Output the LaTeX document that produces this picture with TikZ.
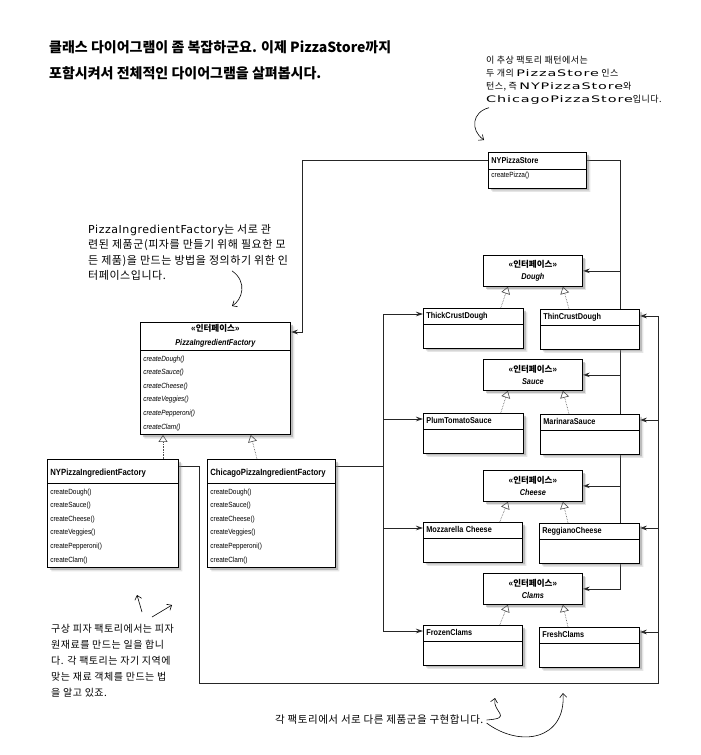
\documentclass[tikz,border=0pt]{standalone}
\usepackage{fontspec}
\setmainfont{Liberation Sans}
\newfontfamily\umlfont[FakeStretch=0.86]{Liberation Sans}
\newfontfamily\krfont{Noto Sans CJK KR}
\newfontfamily\notefont[LetterSpace=5]{Noto Sans CJK KR}
\newfontfamily\latfont[LetterSpace=5]{DejaVu Sans}
\newfontfamily\latwide[FakeStretch=1.6,Scale=1.0,LetterSpace=10]{DejaVu Sans}
\usetikzlibrary{arrows.meta,shapes.multipart,shadows}
\pgfdeclarelayer{back}
\pgfsetlayers{back,main}

\newcommand{\hl}[1]{{\latfont #1}}
\newcommand{\hlw}[1]{{\latwide #1}}
\newcommand{\iface}{{\krfont\bfseries «인터페이스»}}
\newcommand{\chead}[1]{\centering\fontsize{8.5}{13}\selectfont\bfseries #1\strut}
\newcommand{\fhead}[1]{\centering\fontsize{9}{21}\selectfont\bfseries #1\strut}

\tikzset{
  boxshadow/.style={drop shadow={shadow xshift=4pt, shadow yshift=-4pt, opacity=0.2},
    drop shadow={shadow xshift=2.5pt, shadow yshift=-2.5pt, opacity=0.4}},
  umlbox/.style={rectangle split, rectangle split parts=2, draw=black, fill=white,
    line width=0.75pt, boxshadow,
    font=\umlfont\fontsize{7.5}{13.6}\selectfont, inner xsep=3pt, inner ysep=1pt,
    align=left, anchor=north west},
  ifacebox/.style={draw=black, fill=white, line width=0.75pt, boxshadow,
    font=\umlfont\bfseries\itshape\fontsize{8.5}{12}\selectfont, align=center,
    minimum width=99pt, minimum height=31pt, inner sep=0pt, anchor=north west},
  assoc/.style={draw=black!85, line width=0.75pt, -{Stealth[length=7pt,width=4.5pt]}},
  impl/.style={draw=black!70, densely dotted, line width=0.6pt, -{Triangle[open,length=7pt,width=9pt]}},
  note/.style={align=left, anchor=north west, inner sep=0pt},
  handarrow/.style={line width=0.6pt, -{Straight Barb[length=4pt,width=7pt]}}
}

\begin{document}
\begin{tikzpicture}[x=1pt,y=-1pt]
  \begin{pgfonlayer}{back}
    \fill[white] (0,0) rectangle (701,755);
  \end{pgfonlayer}
  \useasboundingbox (0,0) rectangle (701,755);

  \node[anchor=north west, inner sep=0pt, align=left, font=\krfont\bfseries\fontsize{14}{26}\selectfont] (title) at (49,40)
    {클래스 다이어그램이 좀 복잡하군요. 이제 PizzaStore까지\\포함시켜서 전체적인 다이어그램을 살펴봅시다.};

  % store and factories
  \node[umlbox, text width=92pt] (nyps) at (488,152)
    {\centering\fontsize{8.5}{14}\selectfont\bfseries NYPizzaStore\strut
     \nodepart{two}\rule[-9pt]{0pt}{16pt}createPizza()};
  \node[umlbox, text width=144pt] (pif) at (140,322)
    {\fontsize{8.5}{11.5}\selectfont\bfseries \makebox[\linewidth]{\krfont«인터페이스»}\strut\\\makebox[\linewidth]{\itshape PizzaIngredientFactory}\strut
     \nodepart{two}\itshape createDough()\strut\\createSauce()\\createCheese()\\createVeggies()\\createPepperoni()\\createClam()\strut};
  \node[umlbox, text width=125pt] (nypif) at (47,459)
    {\fhead{NYPizzaIngredientFactory}
     \nodepart{two}createDough()\strut\\createSauce()\\createCheese()\\createVeggies()\\createPepperoni()\\createClam()\strut};
  \node[umlbox, text width=122pt] (chpif) at (207,459)
    {\fhead{ChicagoPizzaIngredientFactory}
     \nodepart{two}createDough()\strut\\createSauce()\\createCheese()\\createVeggies()\\createPepperoni()\\createClam()\strut};

  % products
  \node[ifacebox] (dough) at (483,255) {\iface\\Dough};
  \node[umlbox, text width=94pt] (thick) at (423,308) {\chead{ThickCrustDough}\nodepart{two}\rule{0pt}{21pt}};
  \node[umlbox, text width=93pt] (thin) at (540,309) {\chead{ThinCrustDough}\nodepart{two}\rule{0pt}{21pt}};
  \node[ifacebox] (sauce) at (483,359) {\iface\\Sauce};
  \node[umlbox, text width=94pt] (plum) at (423,413) {\chead{PlumTomatoSauce}\nodepart{two}\rule{0pt}{21pt}};
  \node[umlbox, text width=93pt] (marinara) at (540,414) {\chead{MarinaraSauce}\nodepart{two}\rule{0pt}{21pt}};
  \node[ifacebox] (cheese) at (483,470) {\iface\\Cheese};
  \node[umlbox, text width=93pt] (mozz) at (423,522) {\chead{Mozzarella Cheese}\nodepart{two}\rule{0pt}{21pt}};
  \node[umlbox, text width=94pt] (reggiano) at (539,523) {\chead{ReggianoCheese}\nodepart{two}\rule{0pt}{21pt}};
  \node[ifacebox] (clams) at (483,573) {\iface\\Clams};
  \node[umlbox, text width=93pt] (frozen) at (423,625) {\chead{FrozenClams}\nodepart{two}\rule{0pt}{21pt}};
  \node[umlbox, text width=94pt] (fresh) at (539,627) {\chead{FreshClams}\nodepart{two}\rule{0pt}{21pt}};

  \coordinate (lbus) at ([xshift=-40pt,yshift=-6pt]thick.north west);
  \coordinate (rbus) at ([xshift=19pt,yshift=-7pt]thin.north east);
  \coordinate (loop) at ([xshift=21pt,yshift=-224pt]nypif.north east);

  \begin{pgfonlayer}{back}
    \draw[assoc] ([yshift=-8pt]nyps.north west) -| ([xshift=12pt,yshift=-10pt]pif.north east) -- ([yshift=-10pt]pif.north east);
    \draw[assoc] ([yshift=-8pt]nyps.north east) -| ([xshift=38pt]clams.east) -- (clams.east);
    \draw[assoc] ([xshift=38pt]dough.east) -- (dough.east);
    \draw[assoc] ([xshift=38pt]sauce.east) -- (sauce.east);
    \draw[assoc] ([xshift=38pt]cheese.east) -- (cheese.east);

    \draw[assoc] ([yshift=-7pt]chpif.north east) -| (lbus) -- ([yshift=-6pt]thick.north west);
    \draw[assoc] (lbus) |- ([yshift=-6pt]frozen.north west);
    \draw[assoc] ([xshift=-40pt,yshift=-6pt]plum.north west) -- ([yshift=-6pt]plum.north west);
    \draw[assoc] ([xshift=-40pt,yshift=-6pt]mozz.north west) -- ([yshift=-6pt]mozz.north west);

    \draw[assoc] ([yshift=-7pt]nypif.north east) -| (loop) -| (rbus) -- ([yshift=-7pt]thin.north east);
    \draw[assoc] ([xshift=19pt,yshift=-6pt]marinara.north east) -- ([yshift=-6pt]marinara.north east);
    \draw[assoc] ([xshift=19pt,yshift=-5pt]reggiano.north east) -- ([yshift=-5pt]reggiano.north east);
    \draw[assoc] ([xshift=19pt,yshift=-5pt]fresh.north east) -- ([yshift=-5pt]fresh.north east);
  \end{pgfonlayer}

  % implements
  \draw[impl] ([xshift=116pt]nypif.north west) -- ([xshift=23pt]pif.south west);
  \draw[impl] ([xshift=50pt]chpif.north west) -- ([xshift=-40pt]pif.south east);
  \draw[impl] ([xshift=-23pt]thick.north east) -- ([xshift=-25pt]dough.south);
  \draw[impl] ([xshift=29pt]thin.north west) -- ([xshift=30pt]dough.south);
  \draw[impl] ([xshift=-23pt]plum.north east) -- ([xshift=-25pt]sauce.south);
  \draw[impl] ([xshift=29pt]marinara.north west) -- ([xshift=30pt]sauce.south);
  \draw[impl] ([xshift=-23pt]mozz.north east) -- ([xshift=-25pt]cheese.south);
  \draw[impl] ([xshift=29pt]reggiano.north west) -- ([xshift=30pt]cheese.south);
  \draw[impl] ([xshift=-23pt]frozen.north east) -- ([xshift=-25pt]clams.south);
  \draw[impl] ([xshift=29pt]fresh.north west) -- ([xshift=30pt]clams.south);

  % notes
  \node[note, font=\notefont\fontsize{9}{13}\selectfont] (tnote) at (486,56)
    {이 추상 팩토리 패턴에서는\\두 개의 \hlw{PizzaStore} 인스\\턴스, 즉 \hlw{NYPizzaStore}와\\\hlw{ChicagoPizzaStore}입니다.};
  \node[note, font=\notefont\fontsize{11}{15.5}\selectfont] (fnote) at (88,224)
    {\hl{PizzaIngredientFactory}는 서로 관\\련된 제품군(피자를 만들기 위해 필요한 모\\든 제품)을 만드는 방법을 정의하기 위한 인\\터페이스입니다.};
  \node[note, font=\notefont\fontsize{10}{16}\selectfont] (cnote) at (51,624)
    {구상 피자 팩토리에서는 피자\\원재료를 만드는 일을 합니\\다. 각 팩토리는 자기 지역에\\맞는 재료 객체를 만드는 법\\을 알고 있죠.};
  \node[note, font=\notefont\fontsize{10.5}{14}\selectfont] (bnote) at (275,715)
    {각 팩토리에서 서로 다른 제품군을 구현합니다.};

  \coordinate (a1) at (484,140);
  \coordinate (a2) at (232,306);
  \coordinate (a3) at (137,595);
  \coordinate (a4) at (172,605);
  \coordinate (a5) at (495,698);
  \coordinate (a6) at (563,693);
  \draw[handarrow] ([xshift=3pt,yshift=-3pt]tnote.south west) .. controls (472,112) and (470,130) .. (a1);
  \draw[handarrow] ([xshift=144pt,yshift=10pt]fnote.south west) .. controls (248,282) and (242,300) .. (a2);
  \draw[handarrow] ([xshift=91pt,yshift=12pt]cnote.north west) -- (a3);
  \draw[handarrow] ([xshift=101pt,yshift=7pt]cnote.north west) -- (a4);
  \draw[handarrow] ([xshift=3pt]bnote.east) .. controls (514,718) and (492,712) .. (a5);
  \draw[handarrow] ([xshift=3pt,yshift=-3pt]bnote.east) .. controls (520,748) and (566,740) .. (a6);
\end{tikzpicture}
\end{document}
